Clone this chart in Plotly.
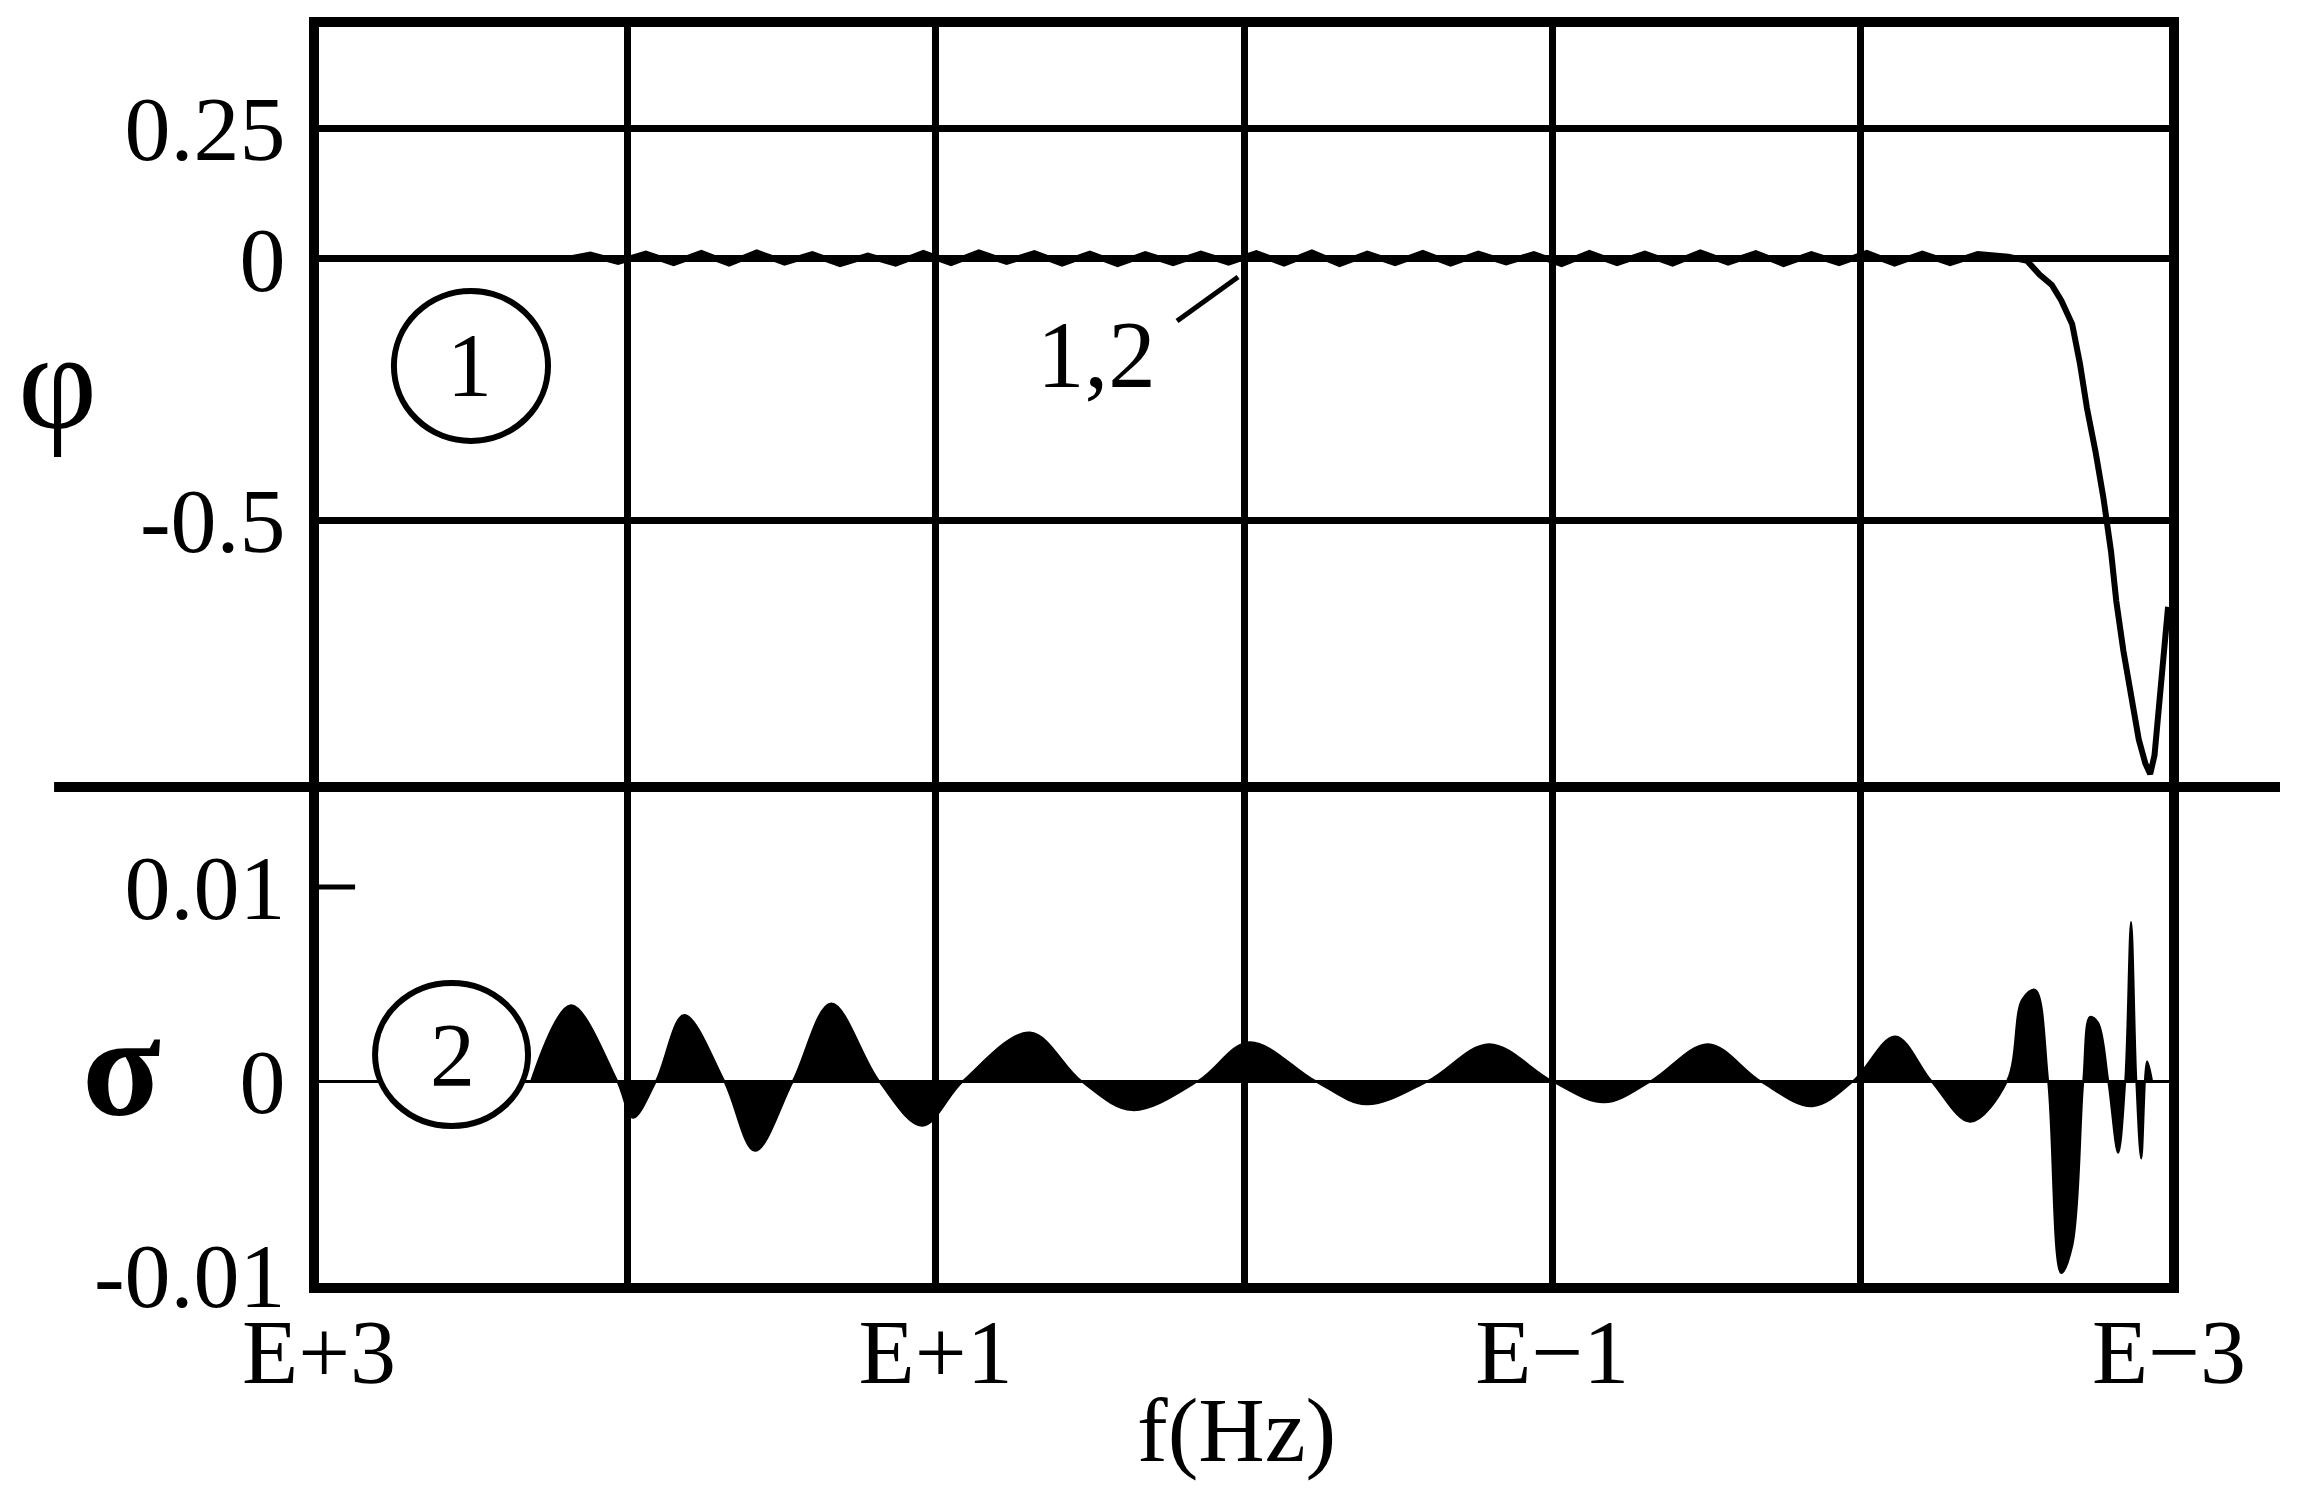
import plotly.graph_objects as go
from plotly.subplots import make_subplots

# phase curve (panel 1): log10 of frequency in Hz, and phi
phi_logf = [
    2.19, 2.12, 2.03, 1.94, 1.85, 1.76, 1.67, 1.58, 1.49, 1.40,
    1.31, 1.22, 1.13, 1.04, 0.95, 0.86, 0.77, 0.68, 0.59, 0.50,
    0.41, 0.32, 0.23, 0.14, 0.05, -0.04, -0.13, -0.22, -0.31, -0.40,
    -0.49, -0.58, -0.67, -0.76, -0.85, -0.94, -1.03, -1.12, -1.21, -1.30,
    -1.39, -1.48, -1.57, -1.66, -1.75, -1.84, -1.93, -2.02, -2.11, -2.20,
    -2.29, -2.38,
    -2.479, -2.540, -2.580, -2.620, -2.651, -2.686, -2.711, -2.734, -2.762, -2.787,
    -2.812, -2.829, -2.852, -2.877, -2.902, -2.923, -2.939, -2.953, -2.971, -2.985,
    -2.997,
]
phi = [
    0.0, 0.008, -0.006, 0.010, -0.008, 0.011, -0.009, 0.012, -0.007, 0.009,
    -0.010, 0.006, -0.009, 0.011, -0.008, 0.012, -0.006, 0.011, -0.009, 0.010,
    -0.010, 0.009, -0.008, 0.010, -0.007, 0.011, -0.009, 0.012, -0.010, 0.010,
    -0.008, 0.011, -0.009, 0.010, -0.007, 0.009, -0.010, 0.011, -0.008, 0.010,
    -0.009, 0.012, -0.007, 0.011, -0.010, 0.009, -0.008, 0.011, -0.009, 0.010,
    -0.008, 0.009,
    0.004, -0.004, -0.03, -0.05, -0.08, -0.125, -0.20, -0.286, -0.37, -0.456,
    -0.56, -0.655, -0.75, -0.836, -0.92, -0.965, -0.986, -0.95, -0.836, -0.75,
    -0.666,
]

# residual (panel 2)
sigma_logf = [
    2.312, 2.183, 2.033, 1.982, 1.907, 1.816, 1.686, 1.586, 1.463, 1.339,
    1.184, 1.044, 0.911, 0.694, 0.528, 0.363, 0.149, -0.017, -0.231, -0.396,
    -0.597, -0.795, -0.999, -1.168, -1.320, -1.505, -1.674, -1.843, -1.976, -2.112,
    -2.229, -2.355, -2.475, -2.524, -2.566, -2.608, -2.650, -2.686, -2.722, -2.744,
    -2.770, -2.803, -2.835, -2.858, -2.877, -2.894, -2.910, -2.929, -2.945,
]
sigma = [
    0, 0.0039, 0, -0.0019, 0, 0.0034, 0, -0.0036, 0, 0.0040,
    0, -0.0023, 0, 0.0025, 0, -0.0015, 0, 0.0020, 0, -0.0012,
    0, 0.0019, 0, -0.0011, 0, 0.0019, 0, -0.0013, 0, 0.0023,
    0, -0.0021, 0, 0.0042, 0.0047, 0, -0.0099, -0.0085, 0, 0.0033,
    0.0030, 0, -0.0037, 0, 0.0082, 0, -0.0040, 0.0010, 0,
]

decades = [1e3, 1e2, 1e1, 1e0, 1e-1, 1e-2, 1e-3]
decade_labels = ["E+3", "", "E+1", "", "E\u22121", "", "E\u22123"]

phi_f = [10 ** v for v in phi_logf]
sigma_f = [10 ** v for v in sigma_logf]

FONT = "Liberation Serif"

fig = make_subplots(rows=2, cols=1, shared_xaxes=True, vertical_spacing=0,
                    row_heights=[0.6051, 0.3949])

fig.add_trace(
    go.Scatter(x=phi_f, y=phi, mode="lines", line={"color": "black", "width": 6},
               hoverinfo="skip"),
    row=1, col=1,
)
fig.add_trace(
    go.Scatter(x=sigma_f, y=sigma, mode="lines", fill="tozeroy", fillcolor="black",
               line={"color": "black", "width": 2, "shape": "spline"},
               hoverinfo="skip"),
    row=2, col=1,
)

line = dict(showline=True, linecolor="black", linewidth=10)

fig.update_xaxes(type="log", range=[3, -3], tickvals=decades, ticktext=decade_labels,
                 showgrid=True, gridcolor="black", gridwidth=7, ticks="",
                 zeroline=False, mirror=False, **line)
# top panel only draws the upper frame edge; the divider shape covers the middle
fig.update_xaxes(side="top", showticklabels=False, row=1, col=1)
fig.update_xaxes(side="bottom", tickfont={"size": 92, "family": FONT, "color": "black"},
                 ticklabelstandoff=-20, row=2, col=1)

fig.update_yaxes(range=[-1.0107, 0.4436], tickvals=[0.25, 0, -0.5],
                 ticktext=["0.25", "0", "-0.5"], showgrid=True, gridcolor="black",
                 gridwidth=7, zeroline=False, ticks="", ticklabelstandoff=5,
                 tickfont={"size": 92, "family": FONT, "color": "black"},
                 mirror=True, row=1, col=1, **line)
fig.update_yaxes(range=[-0.010412, 0.015155], tickvals=[0.01, 0, -0.01],
                 ticktext=["0.01", "0", "-0.01"], showgrid=False, zeroline=True,
                 zerolinecolor="black", zerolinewidth=3, ticks="", ticklabelstandoff=5,
                 tickfont={"size": 92, "family": FONT, "color": "black"},
                 mirror=True, row=2, col=1, **line)

shapes = [
    # divider between the two panels, running past the frame
    dict(type="line", xref="paper", yref="paper", x0=-0.1432, x1=1.06, y0=0.3949, y1=0.3949,
         line={"color": "black", "width": 10}),
    # short tick at sigma = 0.01
    dict(type="line", xref="x2 domain", yref="y2", x0=0, x1=0.0195, y0=0.01, y1=0.01,
         line={"color": "black", "width": 5}),
    # circled panel numbers
    dict(type="circle", xref="paper", yref="paper", x0=0.0405, x1=0.1238, y0=0.6704, y1=0.7898,
         line={"color": "black", "width": 6}, fillcolor="white", layer="above"),
    dict(type="circle", xref="paper", yref="paper", x0=0.0303, x1=0.1130, y0=0.1250, y1=0.2389,
         line={"color": "black", "width": 6}, fillcolor="white", layer="above"),
    # leader for the "1,2" label
    dict(type="line", xref="paper", yref="paper", x0=0.4638, x1=0.4968, y0=0.7659, y1=0.8010,
         line={"color": "black", "width": 5}),
]

annotations = [
    dict(text="1", x=0.0816, y=0.7301, font={"size": 90}),
    dict(text="2", x=0.0719, y=0.1815, font={"size": 90}),
    dict(text="1,2", x=0.420, y=0.7389, font={"size": 95}),
    dict(text="\u03c6", x=-0.1416, y=0.7174, font={"size": 137}),
    dict(text="\u03c3", x=-0.107, y=0.1728, font={"size": 145, "weight": "bold"}),
    dict(text="f(Hz)", x=0.4957, y=-0.117, font={"size": 92}),
]
for a in annotations:
    a.update(xref="paper", yref="paper", showarrow=False, xanchor="center", yanchor="middle")
    a["font"] = {"family": FONT, "color": "black", **a["font"]}

# the page body keeps the browser's default 8px margin, so the margins are
# trimmed by that amount to land the frame where the original has it
fig.update_layout(
    width=2315, height=1496,
    margin={"l": 311, "r": 154, "t": 19, "b": 221},
    paper_bgcolor="white", plot_bgcolor="white",
    showlegend=False,
    font={"family": FONT, "color": "black"},
    shapes=shapes, annotations=annotations,
)

fig.write_html("out.html")
